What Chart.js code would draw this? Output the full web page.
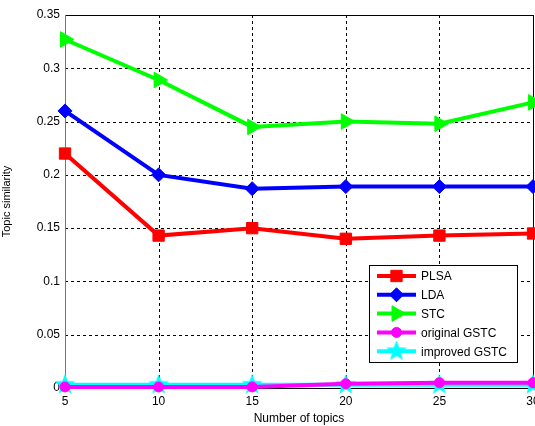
<!DOCTYPE html>
<html>
<head>
<meta charset="utf-8">
<script src="https://cdn.jsdelivr.net/npm/chart.js@4/dist/chart.umd.min.js"></script>
<style>
  html, body { margin: 0; padding: 0; background: #fff; overflow: hidden; }
  #wrap { width: 535px; height: 426px; overflow: hidden; }
</style>
</head>
<body>
<div id="wrap"><canvas id="chart" width="550" height="426"></canvas></div>
<script>
const topics = [5, 10, 15, 20, 25, 30];
const plsa = [0.220, 0.143, 0.150, 0.140, 0.143, 0.145];
const lda = [0.260, 0.200, 0.187, 0.189, 0.189, 0.189];
const stc = [0.327, 0.289, 0.245, 0.250, 0.248, 0.268];
const originalGstc = [0.001, 0.001, 0.001, 0.004, 0.005, 0.005];
const improvedGstc = [0.003, 0.003, 0.003, 0.003, 0.003, 0.003];
const yTicks = [0, 0.05, 0.1, 0.15, 0.2, 0.25, 0.3, 0.35];

// filled five-point star for the cyan series
function makeStar(r, color) {
  const c = document.createElement('canvas');
  c.width = c.height = r * 2 + 2;
  const g = c.getContext('2d');
  g.fillStyle = color;
  g.beginPath();
  for (let i = 0; i < 10; i++) {
    const rad = i % 2 === 0 ? r : r * 0.42;
    const a = -Math.PI / 2 + i * Math.PI / 5;
    const px = r + 1 + rad * Math.cos(a), py = r + 1 + rad * Math.sin(a);
    i === 0 ? g.moveTo(px, py) : g.lineTo(px, py);
  }
  g.closePath();
  g.fill();
  return c;
}
const starImg = makeStar(11, '#00ffff');

const series = [
  { label: 'PLSA', data: plsa, color: '#ff0000', style: 'rect', radius: 8, rot: 0 },
  { label: 'LDA', data: lda, color: '#0000ff', style: 'rectRot', radius: 7, rot: 0 },
  { label: 'STC', data: stc, color: '#00ff00', style: 'triangle', radius: 9, rot: 90 },
  { label: 'original GSTC', data: originalGstc, color: '#ff00ff', style: 'circle', radius: 5, rot: 0 },
  { label: 'improved GSTC', data: improvedGstc, color: '#00ffff', style: starImg, radius: 11, rot: 0 }
];

// dashed grid + axes box, drawn under the lines
const framePlugin = {
  id: 'frame',
  beforeDatasetsDraw(chart) {
    const { ctx, chartArea: a, scales } = chart;
    ctx.save();
    ctx.strokeStyle = '#000';
    ctx.lineWidth = 1;
    ctx.setLineDash([3, 3]);
    ctx.beginPath();
    topics.forEach(v => {
      const x = Math.round(scales.x.getPixelForValue(v)) + 0.5;
      ctx.moveTo(x, a.top); ctx.lineTo(x, a.bottom);
    });
    yTicks.forEach(v => {
      const y = Math.round(scales.y.getPixelForValue(v)) + 0.5;
      ctx.moveTo(a.left, y); ctx.lineTo(a.right, y);
    });
    ctx.stroke();
    ctx.setLineDash([]);
    ctx.strokeRect(a.left + 0.5, a.top + 0.5, a.right - a.left, a.bottom - a.top);
    ctx.strokeStyle = '#777';
    ctx.beginPath();
    ctx.moveTo(a.left + 0.5, a.top); ctx.lineTo(a.left + 0.5, a.bottom);
    ctx.stroke();
    ctx.restore();
  }
};

// legend box drawn inside the plot, lower right
const boxLegend = {
  id: 'boxLegend',
  afterDraw(chart) {
    const ctx = chart.ctx;
    const x0 = 369, y0 = 265, w = 148, h = 97;
    ctx.save();
    ctx.fillStyle = '#fff';
    ctx.fillRect(x0, y0, w, h);
    ctx.strokeStyle = '#000';
    ctx.lineWidth = 1;
    ctx.strokeRect(x0 + 0.5, y0 + 0.5, w, h);
    ctx.font = '12px "Liberation Sans", Arial, sans-serif';
    ctx.textBaseline = 'middle';
    chart.data.datasets.forEach((ds, i) => {
      const y = 276 + i * 18.8;
      ctx.strokeStyle = ds.borderColor;
      ctx.fillStyle = ds.borderColor;
      ctx.lineWidth = 4;
      ctx.beginPath();
      ctx.moveTo(377, y);
      ctx.lineTo(416, y);
      ctx.stroke();
      ctx.lineWidth = 1;
      Chart.helpers.drawPoint(ctx, {
        pointStyle: ds.pointStyle, rotation: ds.pointRotation,
        radius: ds.pointRadius, borderWidth: 1
      }, 396.5, y);
      ctx.fillStyle = '#000';
      ctx.fillText(ds.label, 421, y + 1);
    });
    ctx.restore();
  }
};

new Chart(document.getElementById('chart'), {
  type: 'line',
  data: {
    datasets: series.map(s => ({
      label: s.label,
      data: topics.map((t, i) => ({ x: t, y: s.data[i] })),
      borderColor: s.color,
      backgroundColor: s.color,
      borderWidth: 4,
      pointStyle: s.style,
      pointRadius: s.radius,
      pointRotation: s.rot,
      pointBorderWidth: 1,
      pointBorderColor: s.color,
      pointBackgroundColor: s.color,
      clip: false,
      tension: 0
    }))
  },
  options: {
    responsive: false,
    animation: false,
    layout: { padding: { top: 15, right: 17, left: 0, bottom: 0 } },
    plugins: { legend: { display: false }, tooltip: { enabled: false } },
    scales: {
      x: {
        type: 'linear', min: 5, max: 30,
        afterBuildTicks: ax => { ax.ticks = topics.map(v => ({ value: v })); },
        afterFit: ax => { ax.height = 38; },
        grid: { display: false, drawTicks: false, tickLength: 0 },
        border: { display: false },
        ticks: { color: '#000', padding: 6, font: { family: '"Liberation Sans", Arial, sans-serif', size: 12 }, maxRotation: 0 },
        title: { display: true, text: 'Number of topics', color: '#000', padding: { top: 0, bottom: 0 },
          font: { family: '"Liberation Sans", Arial, sans-serif', size: 12 } }
      },
      y: {
        type: 'linear', min: 0, max: 0.35,
        afterBuildTicks: ax => { ax.ticks = yTicks.map(v => ({ value: v })); },
        afterFit: ax => { ax.width = 65; },
        grid: { display: false, drawTicks: false, tickLength: 0 },
        border: { display: false },
        ticks: { color: '#000', padding: 5, font: { family: '"Liberation Sans", Arial, sans-serif', size: 12 },
          callback: v => String(+v.toFixed(2)) },
        title: { display: true, text: 'Topic similarity', color: '#000', padding: { top: 0, bottom: 4 },
          font: { family: '"Liberation Sans", Arial, sans-serif', size: 11 } }
      }
    }
  },
  plugins: [framePlugin, boxLegend]
});
</script>
</body>
</html>
